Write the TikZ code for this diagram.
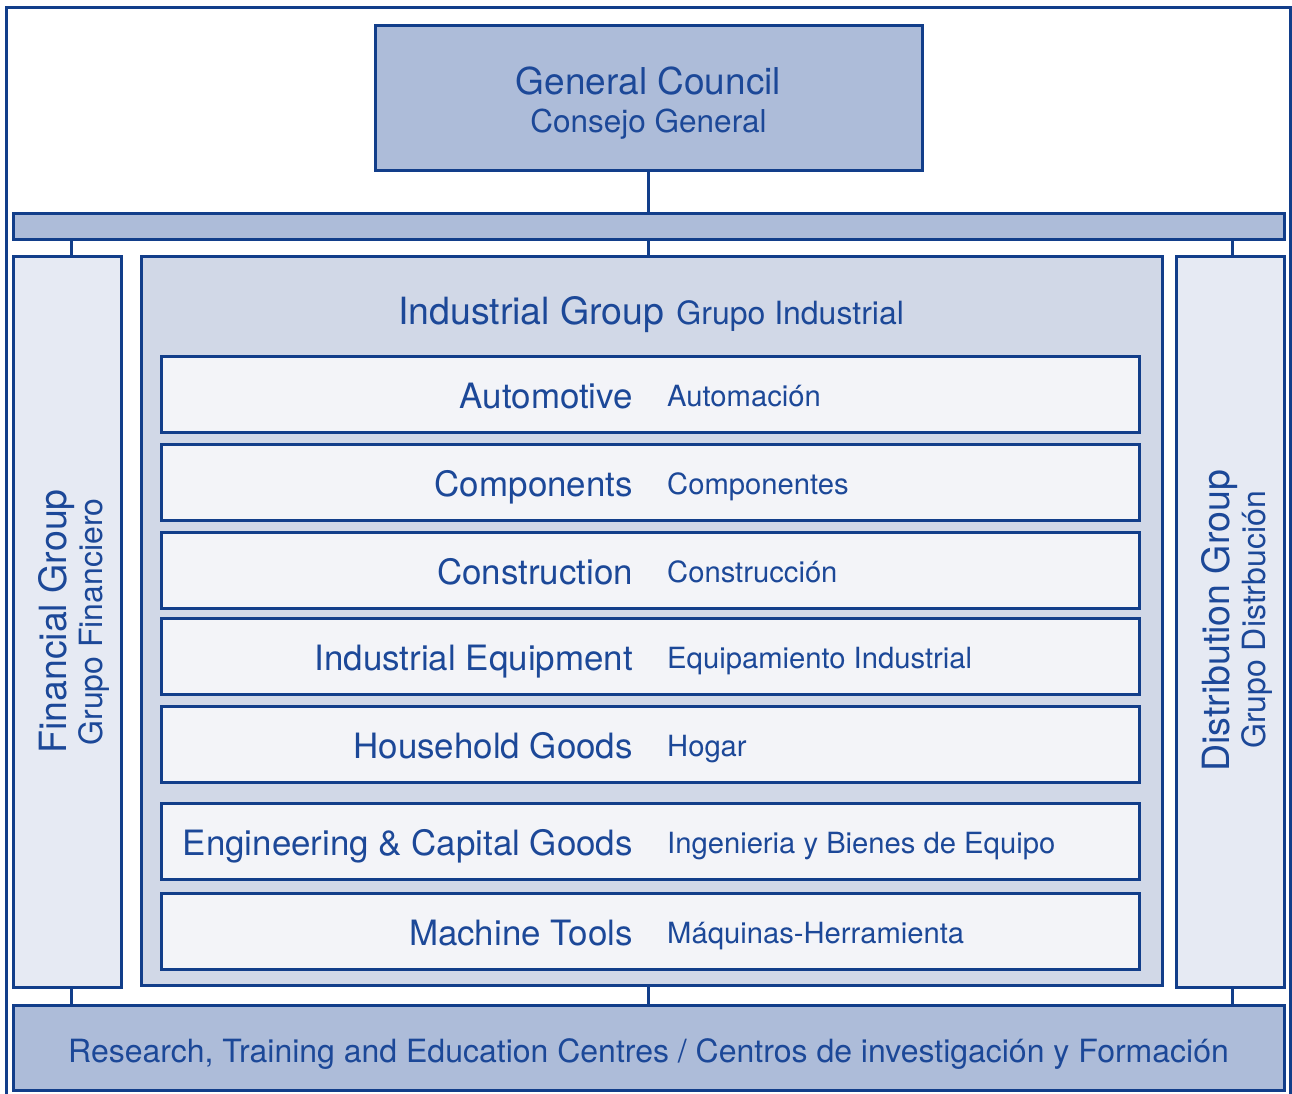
\documentclass[tikz,border=0pt]{standalone}
\usepackage{fontspec}
\setmainfont{TeX Gyre Heros}
\definecolor{navy}{RGB}{18,62,138}
\definecolor{ink}{RGB}{28,72,152}
\definecolor{darkfill}{RGB}{173,188,217}
\definecolor{midfill}{RGB}{209,216,231}
\definecolor{lightfill}{RGB}{230,234,243}
\definecolor{palefill}{RGB}{243,244,248}
\tikzset{
  box/.style={draw=navy,line width=3pt,rectangle,inner sep=0pt},
  link/.style={draw=navy,line width=3pt},
  en/.style={text=ink,inner sep=0pt,font=\fontsize{34.9}{40}\selectfont},
  es/.style={text=ink,inner sep=0pt,font=\fontsize{29.2}{35}\selectfont},
  big/.style={text=ink,inner sep=0pt,font=\fontsize{37.5}{42}\selectfont},
  sub/.style={text=ink,inner sep=0pt,font=\fontsize{32}{36}\selectfont}
}
\begin{document}
\begin{tikzpicture}[x=1pt,y=-1pt]
\useasboundingbox (0,0) rectangle (1292,1094);
\draw[navy,line width=3pt] (6.5,1110)--(6.5,7.5)--(1290.5,7.5)--(1290.5,1110);

% council and upper bar
\node[box,fill=darkfill,minimum width=547,minimum height=145] (council) at (648.5,98.5) {};
\node[big,anchor=base,font=\fontsize{37}{42}\selectfont] (councilen) at (648.5,95) {General Council};
\node[sub,anchor=base,font=\fontsize{31.5}{36}\selectfont] (counciles) at (648.5,133) {Consejo General};
\node[box,fill=darkfill,minimum width=1271,minimum height=26] (topbar) at (648.5,226) {};

% the three groups
\node[box,fill=lightfill,minimum width=108,minimum height=731] (fin) at (67,621.5) {};
\node[box,fill=midfill,minimum width=1021,minimum height=729] (ind) at (651.5,620.5) {};
\node[box,fill=lightfill,minimum width=108,minimum height=731] (dist) at (1230,621.5) {};
\node[big,rotate=90,anchor=base] (fintxt) at (66,621.5) {Financial Group};
\node[sub,rotate=90,anchor=base] (finsub) at (102,622) {Grupo Financiero};
\node[big,rotate=90,anchor=base] (disttxt) at (1229,621) {Distribution Group};
\node[sub,rotate=90,anchor=base] (distsub) at (1265,620) {Grupo Distrbución};
\node[text=ink,inner sep=0pt,anchor=base] (indtxt) at (651,324)
  {{\fontsize{37.5}{42}\selectfont Industrial Group}\hspace{12pt}{\fontsize{32}{36}\selectfont Grupo Industrial}};

\foreach \en/\es/\yy [count=\i] in {Automotive/Automación/394,
  Components/Componentes/482, Construction/Construcción/570,
  Industrial Equipment/Equipamiento Industrial/656.5, Household Goods/Hogar/744,
  Engineering \& Capital Goods/Ingenieria y Bienes de Equipo/841,
  Machine Tools/Máquinas-Herramienta/931}{
  \node[box,fill=palefill,minimum width=978,minimum height=76] (row\i) at (650,\yy) {};
  \node[en,anchor=base east] (en\i) at (633,\yy+14) {\en};
  \node[es,anchor=base west] (es\i) at (667,\yy+12) {\es};
}

% centres bar
\node[box,fill=darkfill,minimum width=1271,minimum height=85] (centres) at (648.5,1047.5) {};
\node[sub,anchor=base] (centrestxt) at (648.5,1062)
  {Research, Training and Education Centres / Centros de investigación y Formación};

% links
\draw[link] (council.south)--(topbar.north);
\draw[link] ([xshift=4pt]fin.north)--([xshift=4pt]topbar.south -| fin.north);
\draw[link] (topbar.south)--(topbar.south |- ind.north);
\draw[link] ([xshift=2pt]dist.north)--([xshift=2pt]topbar.south -| dist.north);
\draw[link] ([xshift=4pt]fin.south)--([xshift=4pt]centres.north -| fin.south);
\draw[link] (centres.north |- ind.south)--(centres.north);
\draw[link] ([xshift=2pt]dist.south)--([xshift=2pt]centres.north -| dist.south);
\end{tikzpicture}
\end{document}
